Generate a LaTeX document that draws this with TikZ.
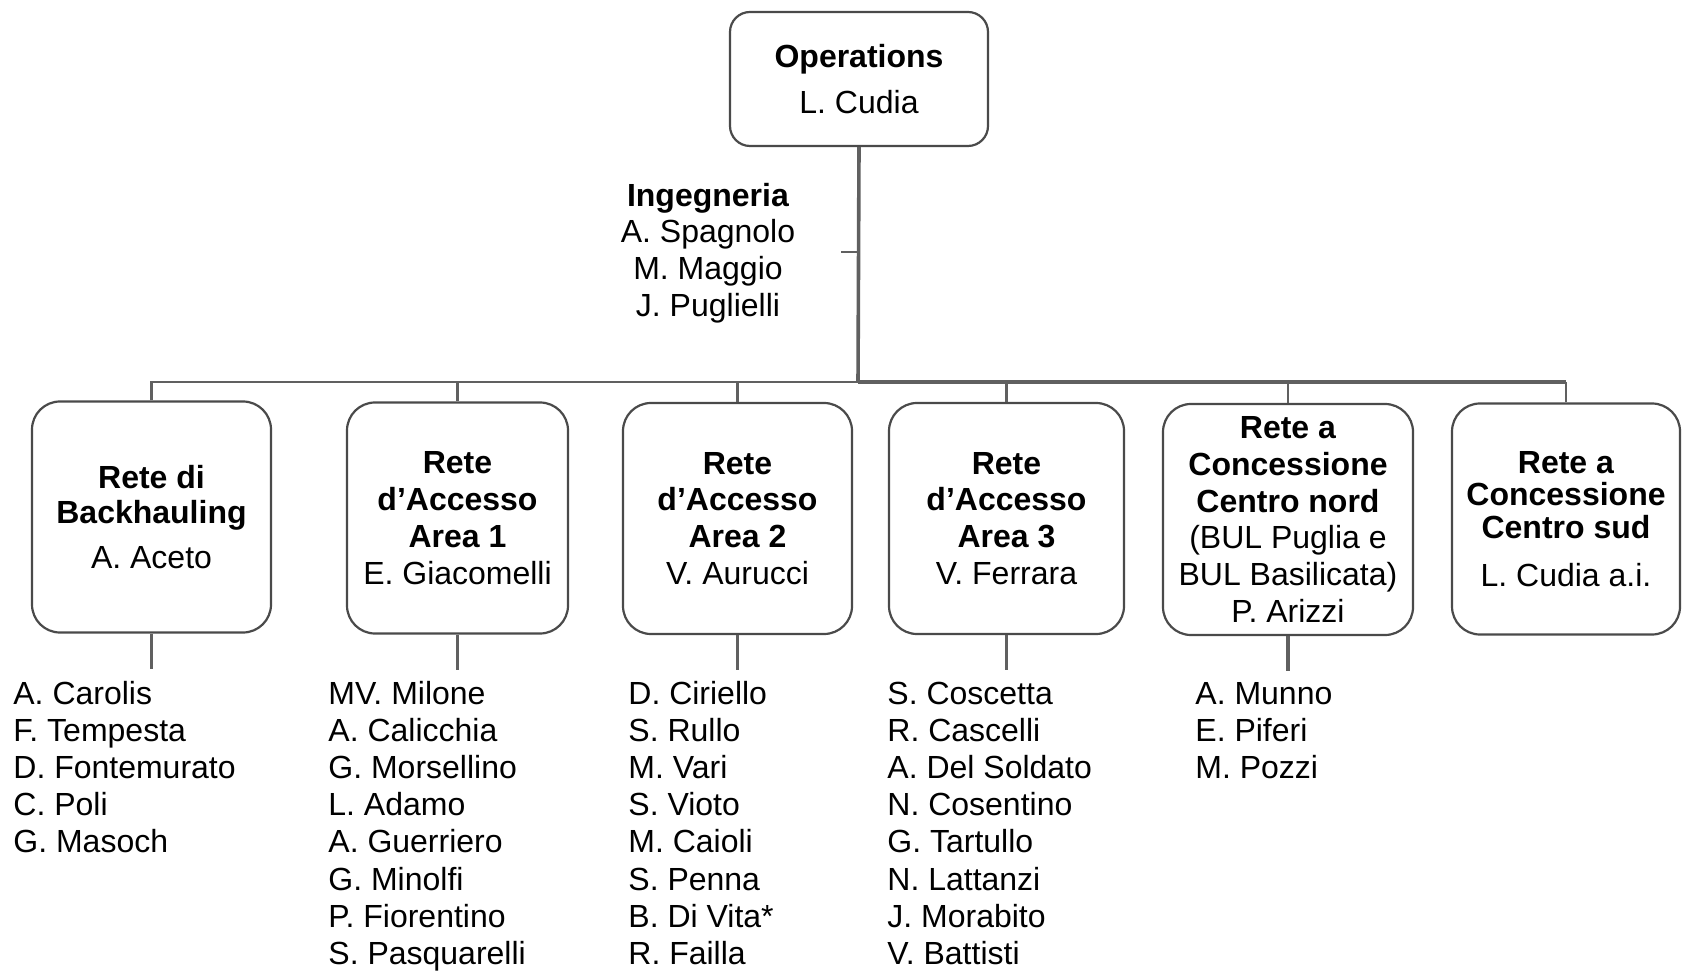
\documentclass[tikz,border=0pt]{standalone}
\usepackage{fontspec}
\setmainfont{Liberation Sans}
\definecolor{boxgray}{HTML}{4A4A4A}
\definecolor{linegray}{HTML}{606060}
\begin{document}
\begin{tikzpicture}[x=0.5pt,y=-0.5pt,
  box/.style={draw=boxgray, line width=1.1pt, rounded corners=14pt, align=center,
    inner sep=0pt, minimum height=115.5pt, font=\fontsize{16}{18.4}\selectfont},
  link/.style={draw=linegray, line width=1.1pt},
  stublink/.style={draw=linegray, line width=1.6pt},
  trunk/.style={draw=linegray, line width=1.8pt},
  member/.style={anchor=base west, inner sep=0pt, font=\fontsize{16}{18}\selectfont}]
\useasboundingbox (0,0) rectangle (1684,977);

% top
\node[box, rounded corners=10pt, minimum width=129pt, minimum height=67pt] (top) at (859,79)
  {\textbf{Operations}\\[4.6pt]L. Cudia};

% Ingegneria
\node[align=center, inner sep=0pt, font=\fontsize{16}{18.35}\selectfont] (ing) at (708,253)
  {\textbf{Ingegneria}\\A. Spagnolo\\M. Maggio\\J. Puglielli};

% second level boxes
\node[box, minimum width=119.5pt, font=\fontsize{16}{17.5}\selectfont] (b1) at (151.5,517)
  {\textbf{Rete di}\\\textbf{Backhauling}\\[5pt]A. Aceto};
\node[box, minimum width=110.5pt] (b2) at (457.5,518)
  {\textbf{Rete}\\\textbf{d’Accesso}\\\textbf{Area 1}\\E. Giacomelli};
\node[box, minimum width=114.5pt] (b3) at (737.5,518.5)
  {\textbf{Rete}\\\textbf{d’Accesso}\\\textbf{Area 2}\\V. Aurucci};
\node[box, minimum width=117.5pt] (b4) at (1006.5,518.5)
  {\textbf{Rete}\\\textbf{d’Accesso}\\\textbf{Area 3}\\V. Ferrara};
\node[box, minimum width=125pt] (b5) at (1288,519.5)
  {\textbf{Rete a}\\\textbf{Concessione}\\\textbf{Centro nord}\\(BUL Puglia e\\BUL Basilicata)\\P. Arizzi};
\node[box, minimum width=114pt, font=\fontsize{16}{16.3}\selectfont] (b6) at (1566,519)
  {\textbf{Rete a}\\\textbf{Concessione}\\\textbf{Centro sud}\\[7.7pt]L. Cudia a.i.};

% connectors
\coordinate (hub) at (858,382);
\coordinate (tick) at (841,252);
\draw[link] (tick) -- (tick -| hub);
\draw[link] (b1.north) |- (hub);
\draw[trunk] (b6.north |- hub) -- (hub);
\draw[link] (b6.north) -- (b6.north |- hub);
\draw[trunk] (top.south) -- (hub);
\foreach \b in {b2,b3,b4,b5} \draw[link] (\b.north) -- (\b.north |- hub);
\foreach \b in {b1,b2,b3,b4,b5} {
  \coordinate (\b-end) at ([yshift=-17.5pt]\b.south);
  \draw[stublink] (\b.south) -- (\b-end);
}

% member lists
\foreach \nm [count=\i from 0] in {A. Carolis, F. Tempesta, D. Fontemurato, C. Poli, G. Masoch}
  \node[member] (m1-\i) at (13,704.5+37.1*\i) {\nm};
\foreach \nm [count=\i from 0] in {MV. Milone, A. Calicchia, G. Morsellino, L. Adamo, A. Guerriero, G. Minolfi, P. Fiorentino, S. Pasquarelli}
  \node[member] (m2-\i) at (328,704.5+37.1*\i) {\nm};
\foreach \nm [count=\i from 0] in {D. Ciriello, S. Rullo, M. Vari, S. Vioto, M. Caioli, S. Penna, B. Di Vita*, R. Failla}
  \node[member] (m3-\i) at (628,704.5+37.1*\i) {\nm};
\foreach \nm [count=\i from 0] in {S. Coscetta, R. Cascelli, A. Del Soldato, N. Cosentino, G. Tartullo, N. Lattanzi, J. Morabito, V. Battisti}
  \node[member] (m4-\i) at (887,704.5+37.1*\i) {\nm};
\foreach \nm [count=\i from 0] in {A. Munno, E. Piferi, M. Pozzi}
  \node[member] (m5-\i) at (1195,704.5+37.1*\i) {\nm};
\end{tikzpicture}
\end{document}
